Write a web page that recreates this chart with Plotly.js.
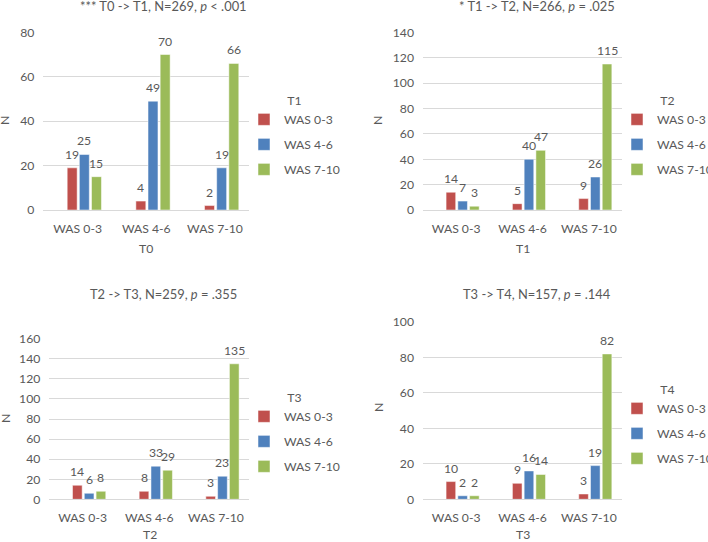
<!DOCTYPE html>
<html>
<head>
<meta charset="utf-8">
<script src="https://cdn.plot.ly/plotly-3.0.1.min.js"></script>
<style>
  html, body { margin: 0; padding: 0; background: #fff; }
  #chart { width: 708px; height: 542px; }
</style>
</head>
<body>
<div id="chart"></div>
<script>
// WAS score transitions between consecutive time points
const categories = ['WAS 0-3', 'WAS 4-6', 'WAS 7-10'];
const seriesNames = ['WAS 0-3', 'WAS 4-6', 'WAS 7-10'];

const t0t1Low  = [19, 4, 2];
const t0t1Mid  = [25, 49, 19];
const t0t1High = [15, 70, 66];

const t1t2Low  = [14, 5, 9];
const t1t2Mid  = [7, 40, 26];
const t1t2High = [3, 47, 115];

const t2t3Low  = [14, 8, 3];
const t2t3Mid  = [6, 33, 23];
const t2t3High = [8, 29, 135];

const t3t4Low  = [10, 9, 3];
const t3t4Mid  = [2, 16, 19];
const t3t4High = [2, 14, 82];

const panelTitles = [
  '*** T0 -> T1, N=269, <i>p</i> < .001',
  '* T1 -> T2, N=266, <i>p</i> = .025',
  'T2 -> T3, N=259, <i>p</i> = .355',
  'T3 -> T4, N=157, <i>p</i> = .144'
];
const fromLabels = ['T0', 'T1', 'T2', 'T3'];
const toLabels = ['T1', 'T2', 'T3', 'T4'];
const yMax = [80, 140, 160, 100];

const panelData = [
  [t0t1Low, t0t1Mid, t0t1High],
  [t1t2Low, t1t2Mid, t1t2High],
  [t2t3Low, t2t3Mid, t2t3High],
  [t3t4Low, t3t4Mid, t3t4High]
];

// ---- styling ----
const W = 708, H = 542;
const FONT = 'Lato, "Open Sans", sans-serif';
const FS = 12.2;
const TXT = '#595959';
const GRID = '#d9d9d9';
const colors = ['#c0504d', '#4f81bd', '#9bbb59'];
const barWidth = 0.145;
const barOffsets = [-0.152, 0.025, 0.202];

const px = v => v / W;
const py = v => 1 - v / H;

// panel geometry in pixels: plot left/right, top/bottom
const boxes = [
  { l: 43.3, r: 249.3, t: 32.3, b: 210 },
  { l: 423,  r: 622,   t: 32.3, b: 210 },
  { l: 49.3, r: 249.3, t: 338.7, b: 499.3 },
  { l: 423,  r: 622,   t: 322, b: 499.3 }
];
const titlePos = [
  { x: 163, y: 6 }, { x: 536.5, y: 6 }, { x: 163, y: 294 }, { x: 537, y: 294 }
];
const yTitlePos = [
  { x: 5, y: 121 }, { x: 378, y: 121 }, { x: 5, y: 419 }, { x: 378, y: 408 }
];
const xTitlePos = [
  { x: 146, y: 248 }, { x: 523, y: 248 }, { x: 150, y: 534.5 }, { x: 523, y: 534.5 }
];
const legendPos = [
  { x: 244, y: 89 }, { x: 617, y: 89 }, { x: 244, y: 386 }, { x: 617, y: 378 }
];

const traces = [];
const layout = {
  width: W, height: H, autosize: false,
  margin: { l: 0, r: 0, t: 0, b: 0, autoexpand: false },
  paper_bgcolor: '#fff', plot_bgcolor: '#fff',
  font: { family: FONT, size: FS, color: TXT },
  barmode: 'overlay',
  annotations: []
};

panelData.forEach((series, p) => {
  const n = p + 1;
  const sfx = n === 1 ? '' : String(n);
  const xa = 'x' + sfx;
  const ya = 'y' + sfx;
  const legendId = 'legend' + sfx;
  series.forEach((vals, s) => {
    traces.push({
      type: 'bar',
      x: categories,
      y: vals,
      name: seriesNames[s],
      xaxis: xa, yaxis: ya,
      legend: legendId,
      legendgroup: 'g' + n + '_' + s,
      width: barWidth,
      offset: barOffsets[s],
      marker: { color: colors[s], line: { color: '#ffffff', width: 0.5 } },
      hoverinfo: 'skip'
    });
    // value labels above each bar
    vals.forEach((v, i) => {
      layout.annotations.push({
        text: String(v), xref: xa, yref: ya,
        x: i + barOffsets[s] + barWidth / 2, y: v,
        xanchor: 'center', yanchor: 'middle', yshift: 13.5,
        showarrow: false,
        font: { family: FONT, size: FS, color: TXT }
      });
    });
  });

  const b = boxes[p];
  layout['xaxis' + sfx] = {
    domain: [px(b.l), px(b.r)],
    anchor: ya,
    type: 'category',
    categoryorder: 'array', categoryarray: categories,
    range: [-0.5, 2.5],
    showgrid: false, zeroline: false,
    showline: true, linecolor: GRID, linewidth: 1,
    ticks: '',
    ticklabelstandoff: 7,
    tickfont: { family: FONT, size: FS, color: TXT },
    fixedrange: true
  };
  layout['yaxis' + sfx] = {
    domain: [py(b.b), py(b.t)],
    anchor: xa,
    range: [0, yMax[p]],
    dtick: 20,
    showgrid: true, gridcolor: GRID, gridwidth: 1,
    zeroline: false, showline: false,
    ticks: '',
    ticklabelstandoff: 8,
    tickfont: { family: FONT, size: FS, color: TXT },
    fixedrange: true
  };

  const lp = legendPos[p];
  layout[legendId] = {
    x: px(lp.x), y: py(lp.y),
    xanchor: 'left', yanchor: 'top',
    xref: 'paper', yref: 'paper',
    bgcolor: 'rgba(0,0,0,0)',
    borderwidth: 0,
    tracegroupgap: 6,
    itemclick: false, itemdoubleclick: false,
    font: { family: FONT, size: FS, color: TXT },
    title: { text: toLabels[p], side: 'top center', font: { family: FONT, size: FS, color: TXT } }
  };

  layout.annotations.push({
    text: panelTitles[p], xref: 'paper', yref: 'paper',
    x: px(titlePos[p].x), y: py(titlePos[p].y),
    xanchor: 'center', yanchor: 'middle', showarrow: false,
    font: { family: FONT, size: 12.9, color: TXT }
  });
  layout.annotations.push({
    text: 'N', xref: 'paper', yref: 'paper',
    x: px(yTitlePos[p].x), y: py(yTitlePos[p].y),
    xanchor: 'center', yanchor: 'middle', showarrow: false, textangle: -90,
    font: { family: FONT, size: FS, color: TXT }
  });
  layout.annotations.push({
    text: fromLabels[p], xref: 'paper', yref: 'paper',
    x: px(xTitlePos[p].x), y: py(xTitlePos[p].y),
    xanchor: 'center', yanchor: 'middle', showarrow: false,
    font: { family: FONT, size: FS, color: TXT }
  });
});

Plotly.newPlot('chart', traces, layout, { displayModeBar: false, staticPlot: true });
</script>
</body>
</html>
